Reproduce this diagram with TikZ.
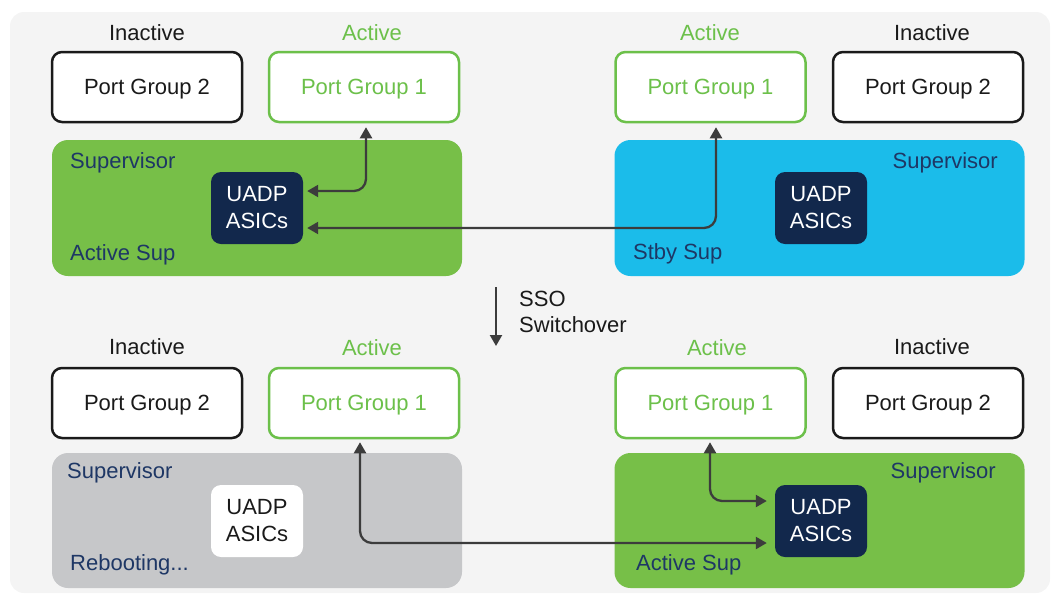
\documentclass[tikz,border=0pt]{standalone}
\usepackage{fontspec}
\setmainfont{Liberation Sans}
\usetikzlibrary{arrows.meta}
\definecolor{bg}{HTML}{F4F4F4}
\definecolor{cgreen}{HTML}{77BF48}
\definecolor{lgreen}{HTML}{6CC04A}
\definecolor{cblue}{HTML}{1BBCEA}
\definecolor{navy}{HTML}{12284C}
\definecolor{navytext}{HTML}{1E3765}
\definecolor{cgray}{HTML}{C6C7C9}
\definecolor{arrowc}{HTML}{3C3C3C}
\definecolor{txt}{HTML}{1A1A1A}
\begin{document}
\begin{tikzpicture}[x=1pt,y=-1pt,
  font=\fontsize{22}{26}\selectfont,
  pgbox/.style={draw=txt, line width=2.5pt, fill=white, rounded corners=10pt, minimum width=190pt, minimum height=70pt, inner sep=0pt, text=txt, text depth=0pt},
  pgact/.style={pgbox, draw=lgreen, text=lgreen},
  sup/.style={rounded corners=16pt, minimum width=410pt, minimum height=136pt, inner sep=0pt},
  asic/.style={fill=navy, text=white, rounded corners=10pt, minimum width=92pt, minimum height=72pt, inner sep=0pt, align=center, font=\fontsize{22}{27}\selectfont},
  lab/.style={text=navytext, inner sep=0pt, text depth=0pt},
  state/.style={text=txt, inner sep=0pt},
  conn/.style={draw=arrowc, line width=2.3pt, rounded corners=12pt, {Triangle[length=11pt,width=12pt]}-{Triangle[length=11pt,width=12pt]}},
]
\useasboundingbox (0,0) rectangle (1055,595);
\node[fill=bg, rounded corners=14pt, minimum width=1040pt, minimum height=581pt, inner sep=0pt] (bgbox) at (530,302.5) {};

% top-left
\node[state] (inA) at (147,33) {Inactive};
\node[state, text=lgreen] (acA) at (372,33) {Active};
\node[pgbox] (pg2a) at (147,87) {Port Group 2};
\node[pgact] (pg1a) at (364,87) {Port Group 1};
\node[sup, fill=cgreen] (supA) at (257,208) {};
\node[lab, anchor=west] (supAt) at (70,161) {Supervisor};
\node[lab, anchor=west] (supAb) at (70,253) {Active Sup};
\node[asic] (asicA) at (257,208) {UADP\\ASICs};

% top-right
\node[state, text=lgreen] (acB) at (710,33) {Active};
\node[state] (inB) at (932,33) {Inactive};
\node[pgact] (pg1b) at (710.5,87) {Port Group 1};
\node[pgbox] (pg2b) at (928,87) {Port Group 2};
\node[sup, fill=cblue] (supB) at (819.5,208) {};
\node[lab, anchor=east] (supBt) at (998,161) {Supervisor};
\node[lab, anchor=west] (supBb) at (633,252) {Stby Sup};
\node[asic] (asicB) at (821,208) {UADP\\ASICs};

% switchover
\coordinate (swA) at (496,287);
\coordinate (swB) at (496,346);
\draw[draw=arrowc, line width=2.2pt, -{Triangle[length=11pt,width=12pt]}] (swA) -- (swB);
\node[anchor=west, align=left, text=txt, inner sep=0pt] (sso) at (519,312) {SSO\\Switchover};

% bottom-left
\node[state] (inC) at (147,347) {Inactive};
\node[state, text=lgreen] (acC) at (372,348) {Active};
\node[pgbox] (pg2c) at (147,403) {Port Group 2};
\node[pgact] (pg1c) at (364,403) {Port Group 1};
\node[sup, fill=cgray, minimum height=135pt] (supC) at (257,520.5) {};
\node[lab, anchor=west] (supCt) at (67,471) {Supervisor};
\node[lab, anchor=west] (supCb) at (70,563) {Rebooting...};
\node[asic, fill=white, text=txt] (asicC) at (257,521) {UADP\\ASICs};

% bottom-right
\node[state, text=lgreen] (acD) at (717,348) {Active};
\node[state] (inD) at (932,347) {Inactive};
\node[pgact] (pg1d) at (710.5,403) {Port Group 1};
\node[pgbox] (pg2d) at (928,403) {Port Group 2};
\node[sup, fill=cgreen, minimum height=135pt] (supD) at (819.5,520.5) {};
\node[lab, anchor=east] (supDt) at (996,471) {Supervisor};
\node[lab, anchor=west] (supDb) at (636,563) {Active Sup};
\node[asic] (asicD) at (821,521) {UADP\\ASICs};

% connectors
\draw[conn, shorten <=4pt, shorten >=4pt] (asicA.east |- 0,191) -| (366,0 |- pg1a.south);
\draw[conn, shorten <=4pt, shorten >=4pt] (asicA.east |- 0,228) -| (716,0 |- pg1b.south);
\draw[conn, shorten <=3pt, shorten >=8pt] (360,0 |- pg1c.south) |- (asicD.west |- 0,543);
\draw[conn, shorten <=3pt, shorten >=8pt] (710,0 |- pg1d.south) |- (asicD.west |- 0,501);
\end{tikzpicture}
\end{document}
